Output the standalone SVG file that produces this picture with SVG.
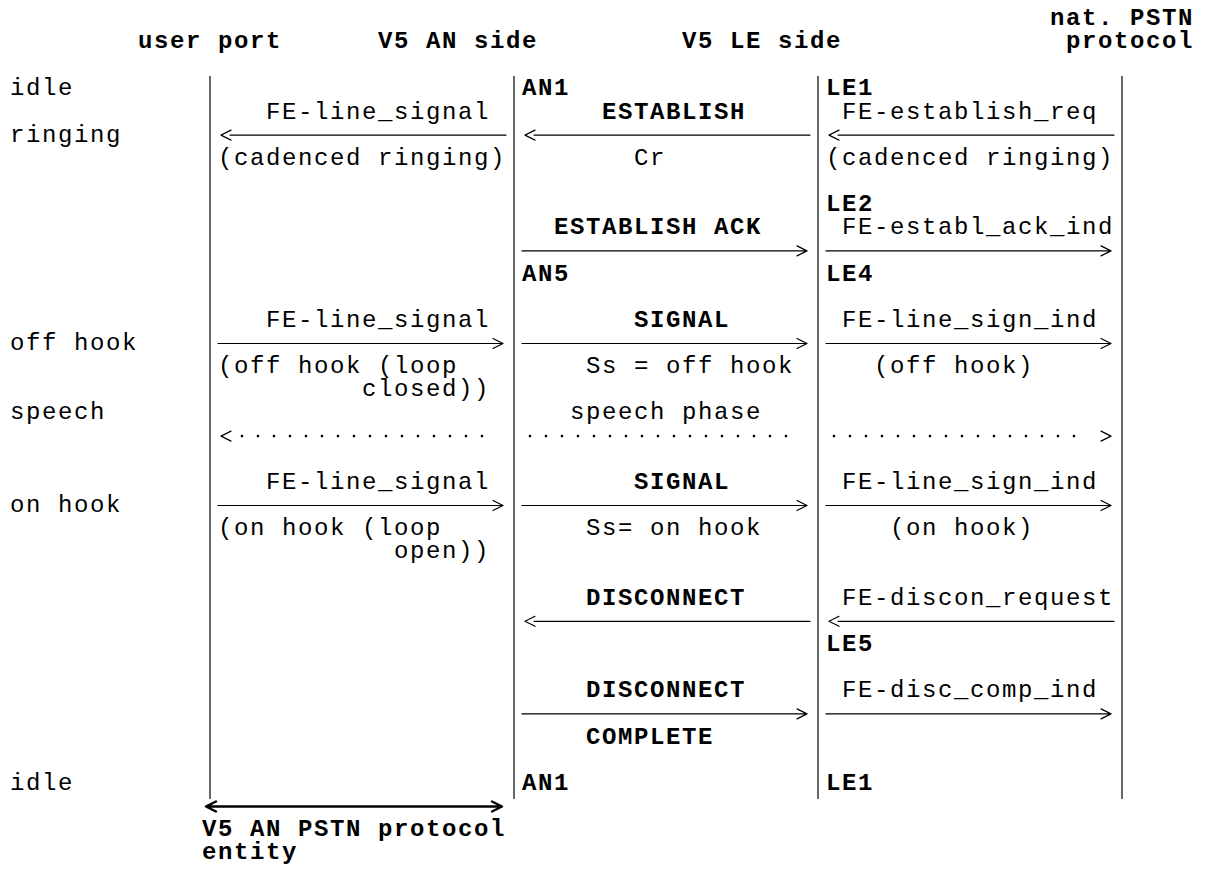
<svg xmlns="http://www.w3.org/2000/svg" width="1212" height="893" viewBox="0 0 1212 893">
<style>
.t{font-family:"Liberation Mono","DejaVu Sans Mono",monospace;font-size:24px;letter-spacing:1.6px;fill:#000}
.b{font-weight:bold}
.ln{stroke:#000;stroke-width:1.2;fill:none}
.ar{stroke:#000;stroke-width:1.2;fill:none;stroke-linecap:round;stroke-linejoin:round}
.ab{stroke:#000;stroke-width:2.4;fill:none;stroke-linecap:round;stroke-linejoin:round}
.dt{stroke:#000;stroke-width:2.6;fill:none;stroke-linecap:round;stroke-dasharray:0 16}
</style>
<rect width="1212" height="893" fill="#fff"/>

<g id="headers">
<text class="t b" x="138" y="48">user port</text>
<text class="t b" x="378" y="48">V5 AN side</text>
<text class="t b" x="682" y="48">V5 LE side</text>
<text class="t b" x="1050" y="25">nat. PSTN</text>
<text class="t b" x="1066" y="48">protocol</text>
</g>

<g id="user-states">
<text class="t" x="10" y="95.3">idle</text>
<text class="t" x="10" y="141.6">ringing</text>
<text class="t" x="10" y="350">off hook</text>
<text class="t" x="10" y="419.4">speech</text>
<text class="t" x="10" y="512">on hook</text>
<text class="t" x="10" y="789.8">idle</text>
</g>

<g id="lifelines">
<line id="lifeline-user-port" class="ln" x1="210" y1="76" x2="210" y2="799"/>
<line id="lifeline-an" class="ln" x1="514" y1="76" x2="514" y2="799"/>
<line id="lifeline-le" class="ln" x1="818" y1="76" x2="818" y2="799"/>
<line id="lifeline-pstn" class="ln" x1="1122" y1="76" x2="1122" y2="799"/>
</g>

<g id="an-states">
<text class="t b" x="522" y="95.3">AN1</text>
<text class="t b" x="522" y="280.5">AN5</text>
<text class="t b" x="522" y="789.8">AN1</text>
</g>

<g id="le-states">
<text class="t b" x="826" y="95.3">LE1</text>
<text class="t b" x="826" y="211.1">LE2</text>
<text class="t b" x="826" y="280.5">LE4</text>
<text class="t b" x="826" y="650.9">LE5</text>
<text class="t b" x="826" y="789.8">LE1</text>
</g>

<g id="msg-ringing">
<text class="t" x="266" y="118.5">FE-line_signal</text>
<text class="t" x="218" y="164.8">(cadenced ringing)</text>
<text class="t b" x="602" y="118.5">ESTABLISH</text>
<text class="t" x="634" y="164.8">Cr</text>
<text class="t" x="842" y="118.5">FE-establish_req</text>
<text class="t" x="826" y="164.8">(cadenced ringing)</text>
</g>

<g id="msg-establish-ack">
<text class="t b" x="554" y="234.2">ESTABLISH ACK</text>
<text class="t" x="842" y="234.2">FE-establ_ack_ind</text>
</g>

<g id="msg-off-hook">
<text class="t" x="266" y="326.8">FE-line_signal</text>
<text class="t" x="218" y="373.1">(off hook (loop</text>
<text class="t" x="362" y="396.3">closed))</text>
<text class="t b" x="634" y="326.8">SIGNAL</text>
<text class="t" x="586" y="373.1">Ss = off hook</text>
<text class="t" x="842" y="326.8">FE-line_sign_ind</text>
<text class="t" x="874" y="373.1">(off hook)</text>
</g>

<g id="msg-speech">
<text class="t" x="570" y="419.4">speech phase</text>
</g>

<g id="msg-on-hook">
<text class="t" x="266" y="488.9">FE-line_signal</text>
<text class="t" x="218" y="535.2">(on hook (loop</text>
<text class="t" x="394" y="558.3">open))</text>
<text class="t b" x="634" y="488.9">SIGNAL</text>
<text class="t" x="586" y="535.2">Ss= on hook</text>
<text class="t" x="842" y="488.9">FE-line_sign_ind</text>
<text class="t" x="890" y="535.2">(on hook)</text>
</g>

<g id="msg-disconnect">
<text class="t b" x="586" y="604.6">DISCONNECT</text>
<text class="t" x="842" y="604.6">FE-discon_request</text>
</g>

<g id="msg-disconnect-complete">
<text class="t b" x="586" y="697.2">DISCONNECT</text>
<text class="t b" x="586" y="743.5">COMPLETE</text>
<text class="t" x="842" y="697.2">FE-disc_comp_ind</text>
</g>

<g id="entity-label">
<text class="t b" x="202" y="836.1">V5 AN PSTN protocol</text>
<text class="t b" x="202" y="859.3">entity</text>
</g>

<g id="connectors">
<!-- row 2: ringing, leftward -->
<path class="ar" d="M231 130.1 L221 135.1 L231 140.1 M230 135.1 H506"/>
<path class="ar" d="M535 130.1 L525 135.1 L535 140.1 M534 135.1 H810"/>
<path class="ar" d="M839 130.1 L829 135.1 L839 140.1 M838 135.1 H1114"/>
<!-- row 7: establish ack, rightward -->
<path class="ar" d="M522 250.9 H806 M797 245.9 L807 250.9 L797 255.9"/>
<path class="ar" d="M826 250.9 H1110 M1101 245.9 L1111 250.9 L1101 255.9"/>
<!-- row 11: off hook, rightward -->
<path class="ar" d="M218 343.5 H502 M493 338.5 L503 343.5 L493 348.5"/>
<path class="ar" d="M522 343.5 H806 M797 338.5 L807 343.5 L797 348.5"/>
<path class="ar" d="M826 343.5 H1110 M1101 338.5 L1111 343.5 L1101 348.5"/>
<!-- row 15: speech phase, dotted -->
<path class="ar" d="M231 431.1 L221 436.1 L231 441.1"/>
<path class="dt" d="M242 436.1 H498"/>
<path class="dt" d="M530 436.1 H802"/>
<path class="dt" d="M834 436.1 H1090"/>
<path class="ar" d="M1101 431.1 L1111 436.1 L1101 441.1"/>
<!-- row 18: on hook, rightward -->
<path class="ar" d="M218 505.5 H502 M493 500.5 L503 505.5 L493 510.5"/>
<path class="ar" d="M522 505.5 H806 M797 500.5 L807 505.5 L797 510.5"/>
<path class="ar" d="M826 505.5 H1110 M1101 500.5 L1111 505.5 L1101 510.5"/>
<!-- row 23: disconnect, leftward -->
<path class="ar" d="M535 616.3 L525 621.3 L535 626.3 M534 621.3 H810"/>
<path class="ar" d="M839 616.3 L829 621.3 L839 626.3 M838 621.3 H1114"/>
<!-- row 27: disconnect complete, rightward -->
<path class="ar" d="M522 713.9 H806 M797 708.9 L807 713.9 L797 718.9"/>
<path class="ar" d="M826 713.9 H1110 M1101 708.9 L1111 713.9 L1101 718.9"/>
<!-- row 31: entity span, double-headed bold -->
<path class="ab" d="M216 801.5 L206 806.5 L216 811.5 M207 806.5 H501 M492 801.5 L502 806.5 L492 811.5"/>
</g>
</svg>
